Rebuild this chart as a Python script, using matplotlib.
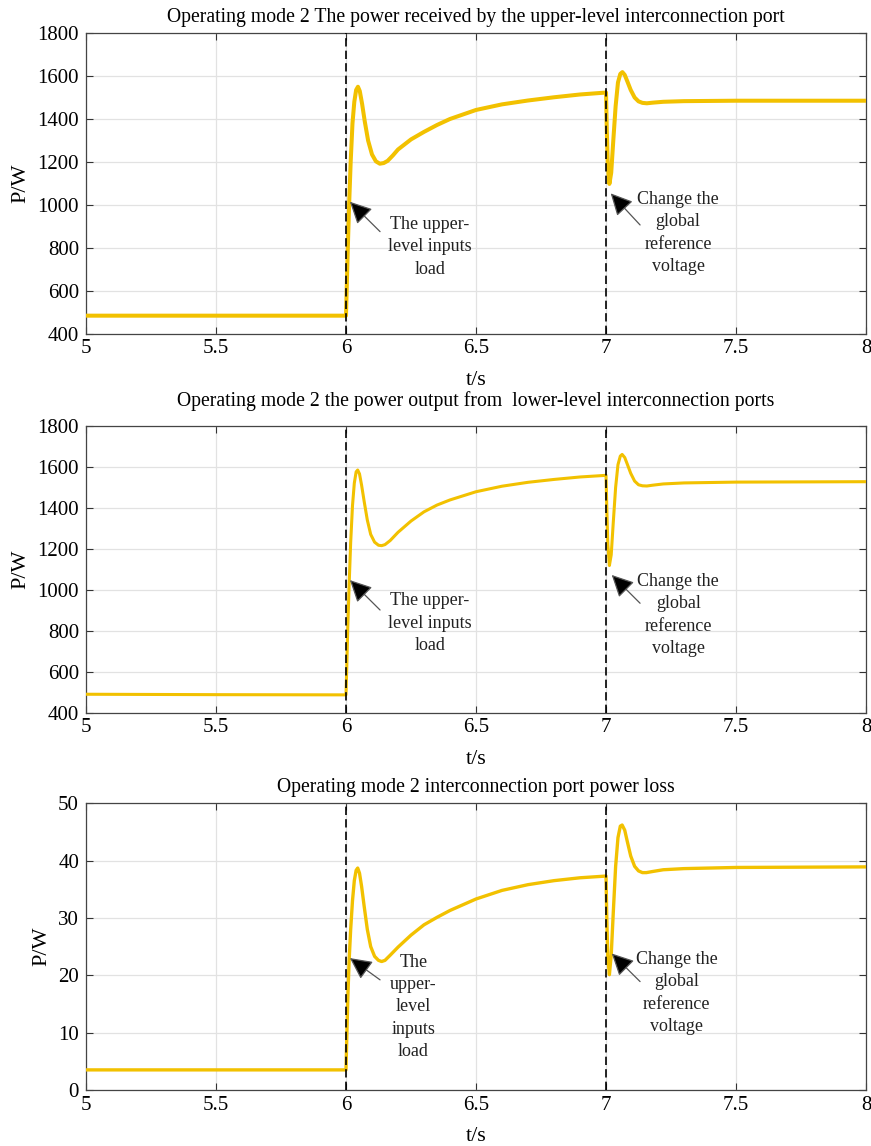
import matplotlib
matplotlib.use('Agg')
import matplotlib.pyplot as plt

plt.rcParams['font.family'] = ['Liberation Serif', 'DejaVu Serif']

# time axis samples (s)
t_top = [5.0, 5.5, 6.0, 6.003, 6.007, 6.012, 6.018, 6.025, 6.032, 6.039, 6.046,
         6.053, 6.062, 6.072, 6.085, 6.1, 6.115, 6.13, 6.145, 6.16, 6.18, 6.2,
         6.25, 6.3, 6.35, 6.4, 6.5, 6.6, 6.7, 6.8, 6.9, 7.0, 7.003, 7.007, 7.013,
         7.02, 7.028, 7.037, 7.046, 7.055, 7.063, 7.072, 7.082, 7.095, 7.11,
         7.125, 7.14, 7.157, 7.18, 7.22, 7.3, 7.5, 8.0]
p_upper = [485, 485, 485, 620, 800, 1000, 1200, 1380, 1480, 1535, 1550,
           1530, 1470, 1390, 1300, 1235, 1203, 1192, 1195, 1205, 1230, 1258,
           1305, 1340, 1372, 1400, 1442, 1468, 1486, 1501, 1514, 1523, 1350, 1180, 1098,
           1150, 1300, 1460, 1570, 1610, 1618, 1605, 1575, 1535, 1500,
           1482, 1475, 1473, 1476, 1480, 1483, 1485, 1485]

t_mid = [5.0, 5.5, 6.0, 6.003, 6.007, 6.012, 6.018, 6.025, 6.032, 6.039, 6.045,
         6.052, 6.06, 6.07, 6.082, 6.095, 6.11, 6.125, 6.137, 6.15, 6.17, 6.2,
         6.25, 6.3, 6.35, 6.4, 6.5, 6.6, 6.7, 6.8, 6.9, 7.0, 7.003, 7.007, 7.013,
         7.02, 7.028, 7.037, 7.046, 7.055, 7.062, 7.072, 7.082, 7.095, 7.11,
         7.125, 7.14, 7.157, 7.18, 7.22, 7.3, 7.5, 8.0]
p_lower = [490, 488, 487, 620, 820, 1020, 1230, 1410, 1520, 1575, 1584,
           1565, 1510, 1430, 1340, 1270, 1232, 1217, 1215, 1220, 1240, 1280,
           1335, 1380, 1413, 1438, 1478, 1505, 1524, 1538, 1550, 1558, 1400, 1220, 1118,
           1170, 1330, 1500, 1610, 1652, 1660, 1645, 1612, 1568, 1530,
           1512, 1507, 1506, 1510, 1516, 1521, 1525, 1527]

t_loss = [5.0, 5.5, 6.0, 6.003, 6.007, 6.012, 6.018, 6.025, 6.032, 6.039, 6.045,
          6.052, 6.06, 6.07, 6.082, 6.095, 6.11, 6.125, 6.137, 6.15, 6.17, 6.2,
          6.25, 6.3, 6.35, 6.4, 6.5, 6.6, 6.7, 6.8, 6.9, 7.0, 7.003, 7.007, 7.013,
          7.02, 7.028, 7.037, 7.046, 7.055, 7.062, 7.072, 7.082, 7.095, 7.11,
          7.125, 7.14, 7.155, 7.18, 7.22, 7.3, 7.5, 8.0]
p_loss = [3.5, 3.5, 3.5, 9, 16, 22.5, 28, 33, 36.5, 38.3, 38.7,
          37.8, 35.5, 32, 28, 25, 23.3, 22.6, 22.4, 22.6, 23.5, 24.9,
          27.0, 28.8, 30.1, 31.3, 33.3, 34.8, 35.8, 36.5, 37.0, 37.3, 30, 23, 20.1,
          23.5, 31, 39, 44, 46.0, 46.2, 45.3, 43.3, 40.8, 39.0,
          38.2, 37.9, 37.9, 38.1, 38.4, 38.6, 38.8, 38.9]

titles = ['Operating mode 2 The power received by the upper-level interconnection port',
          'Operating mode 2 the power output from  lower-level interconnection ports',
          'Operating mode 2 interconnection port power loss']
x_ticks = [5, 5.5, 6, 6.5, 7, 7.5, 8]
x_labels = ['5', '5.5', '6', '6.5', '7', '7.5', '8']
event_times = [6, 7]

load_text = ['The upper-\nlevel inputs\nload', 'The upper-\nlevel inputs\nload',
             'The\nupper-\nlevel\ninputs\nload']
ref_text = 'Change the\nglobal\nreference\nvoltage'

gold = '#F2C100'

fig = plt.figure(figsize=(8.71, 11.46), dpi=100)
axes = [fig.add_axes([0.0987, 0.7086, 0.8956, 0.2626]),
        fig.add_axes([0.0987, 0.3781, 0.8956, 0.2504]),
        fig.add_axes([0.0987, 0.0489, 0.8956, 0.2502])]

series = [(t_top, p_upper, 2.9), (t_mid, p_lower, 2.2), (t_loss, p_loss, 2.4)]
ylims = [(400, 1800), (400, 1800), (0, 50)]
yticks = [range(400, 1801, 200), range(400, 1801, 200), range(0, 51, 10)]
title_pads = [8, 14, 8]

# annotation positions (data coords): arrow tip, arrow tail, text centre
load_arrows = [((6.015, 1015), (6.131, 876), (6.323, 805)),
               ((6.015, 1047), (6.131, 901), (6.323, 837)),
               ((6.015, 23.0), (6.131, 19.2), (6.259, 14.5))]
ref_arrows = [((7.018, 1054), (7.131, 907), (7.277, 870)),
              ((7.022, 1072), (7.131, 934), (7.278, 877)),
              ((7.022, 23.8), (7.131, 18.9), (7.272, 16.9))]

for i, ax in enumerate(axes):
    t, p, lw = series[i]
    ax.plot(t, p, color=gold, lw=lw, solid_joinstyle='round', zorder=3)
    for te in event_times:
        ax.axvline(te, color='black', lw=1.2, linestyle=(0, (5, 2.5)), zorder=4)
    ax.set_xlim(5, 8)
    ax.set_ylim(*ylims[i])
    ax.set_xticks(x_ticks)
    ax.set_xticklabels(x_labels)
    ax.set_yticks(list(yticks[i]))
    ax.grid(True, color='#e2e2e2', lw=0.9)
    ax.set_axisbelow(True)
    ax.tick_params(direction='in', top=True, right=True, length=5, width=0.8,
                   labelsize=15, color='#333333')
    ax.tick_params(axis='x', pad=4)
    ax.tick_params(axis='y', pad=5)
    for s in ax.spines.values():
        s.set_color('#444444')
        s.set_linewidth(0.9)
    ax.set_xlabel('t/s', fontsize=16, labelpad=9)
    ax.set_ylabel('P/W', fontsize=16, labelpad=5)
    ax.set_title(titles[i], fontsize=14.2, pad=title_pads[i])

    for tip, tail, txt, label in [(load_arrows[i][0], load_arrows[i][1], load_arrows[i][2], load_text[i]),
                                  (ref_arrows[i][0], ref_arrows[i][1], ref_arrows[i][2], ref_text)]:
        ax.annotate('', xy=tip, xytext=tail,
                    arrowprops=dict(arrowstyle='-|>,head_length=0.9,head_width=0.45',
                                    fc='black', ec='#555555', lw=0.9,
                                    mutation_scale=15, shrinkA=0, shrinkB=0),
                    zorder=5)
        ax.text(txt[0], txt[1], label, ha='center', va='center', fontsize=13,
                linespacing=1.4, color='#222222', zorder=5)

fig.savefig('out.png', dpi=100)
